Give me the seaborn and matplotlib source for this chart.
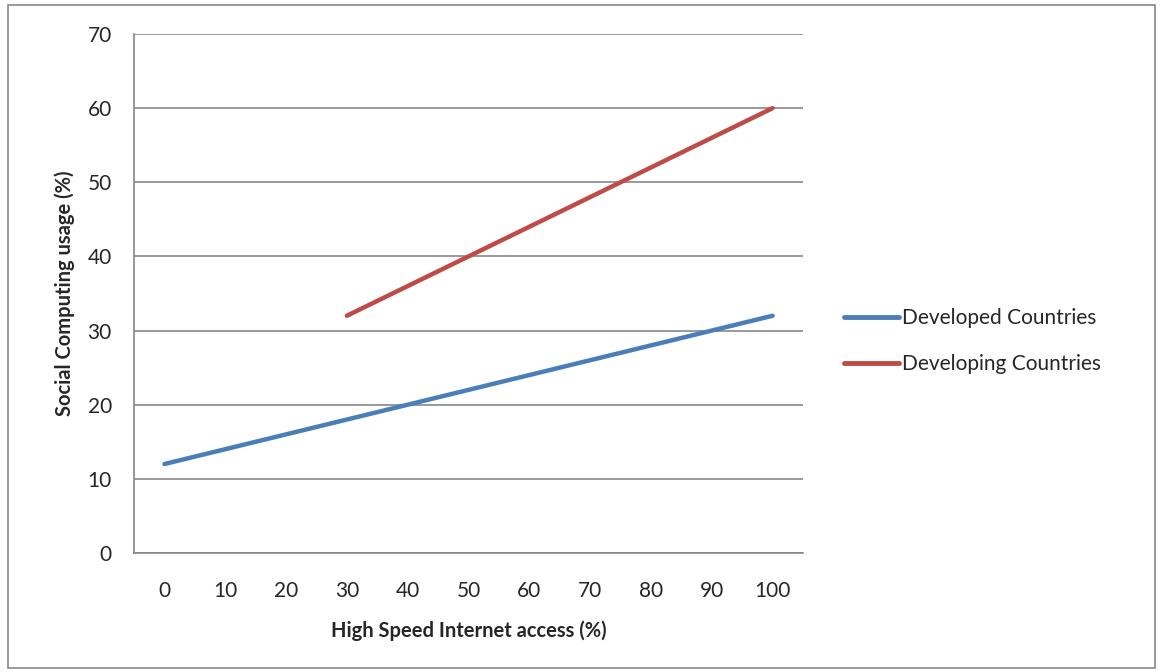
import numpy as np
import pandas as pd
import matplotlib
matplotlib.use("Agg")
import matplotlib.pyplot as plt
import seaborn as sns
from matplotlib.patches import Rectangle

access=[0,10,20,30,40,50,60,70,80,90,100]
developed=[12,14,16,18,20,22,24,26,28,30,32]
developing_access=[30,40,50,60,70,80,90,100]
developing=[32,36,40,44,48,52,56,60]

df=pd.concat([
    pd.DataFrame({"access":access,"usage":developed,"group":"Developed Countries"}),
    pd.DataFrame({"access":developing_access,"usage":developing,"group":"Developing Countries"}),
])

sns.set_style("white")
plt.rcParams["font.family"]=["Lato","DejaVu Sans"]

fig=plt.figure(figsize=(11.6,6.72),dpi=100)
ax=fig.add_axes([134/1160,1-553/672,(803-134)/1160,(553-34)/672])

sns.lineplot(
    data=df,x="access",y="usage",hue="group",
    palette=["#4A7EBB","#BE4B48"],
    linewidth=3.2,ax=ax,
    solid_capstyle="round"
)

ax.set_xlim(-5,105)
ax.set_ylim(0,70)
ax.set_yticks(range(0,71,10))
ax.set_xticks(access)
ax.set_xticks(np.arange(-5,106,10),minor=True)
ax.tick_params(axis="x",which="major",length=0,pad=20,labelsize=15)
ax.tick_params(axis="x",which="minor",length=8,width=1.2,color="#888888")
ax.tick_params(axis="y",length=8,width=1.2,color="#888888",labelsize=15,pad=8)
ax.grid(axis="y",color="#888888",linewidth=1.2)
ax.set_axisbelow(True)
for s in ["top","right"]:
    ax.spines[s].set_visible(False)
for s in ["left","bottom"]:
    ax.spines[s].set_color("#888888")
    ax.spines[s].set_linewidth(1.2)

ax.set_xlabel("High Speed Internet access (%)",fontsize=14.5,fontweight="bold",labelpad=14)
ax.set_ylabel("Social Computing usage (%)",fontsize=14.5,fontweight="bold",labelpad=9)

leg=ax.legend(
    loc="center left",bbox_to_anchor=(825/1160,1-341/672),
    bbox_transform=fig.transFigure,frameon=False,fontsize=15,
    handlelength=2.65,handletextpad=0.15,labelspacing=1.25
)
for h in leg.get_lines():
    h.set_linewidth(3.5)

fig.patches.append(Rectangle((8/1160,1-668/672),(1155-8)/1160,(668-5)/672,
    transform=fig.transFigure,fill=False,edgecolor="#888888",linewidth=1.2))

plt.savefig("out.png",dpi=100)
